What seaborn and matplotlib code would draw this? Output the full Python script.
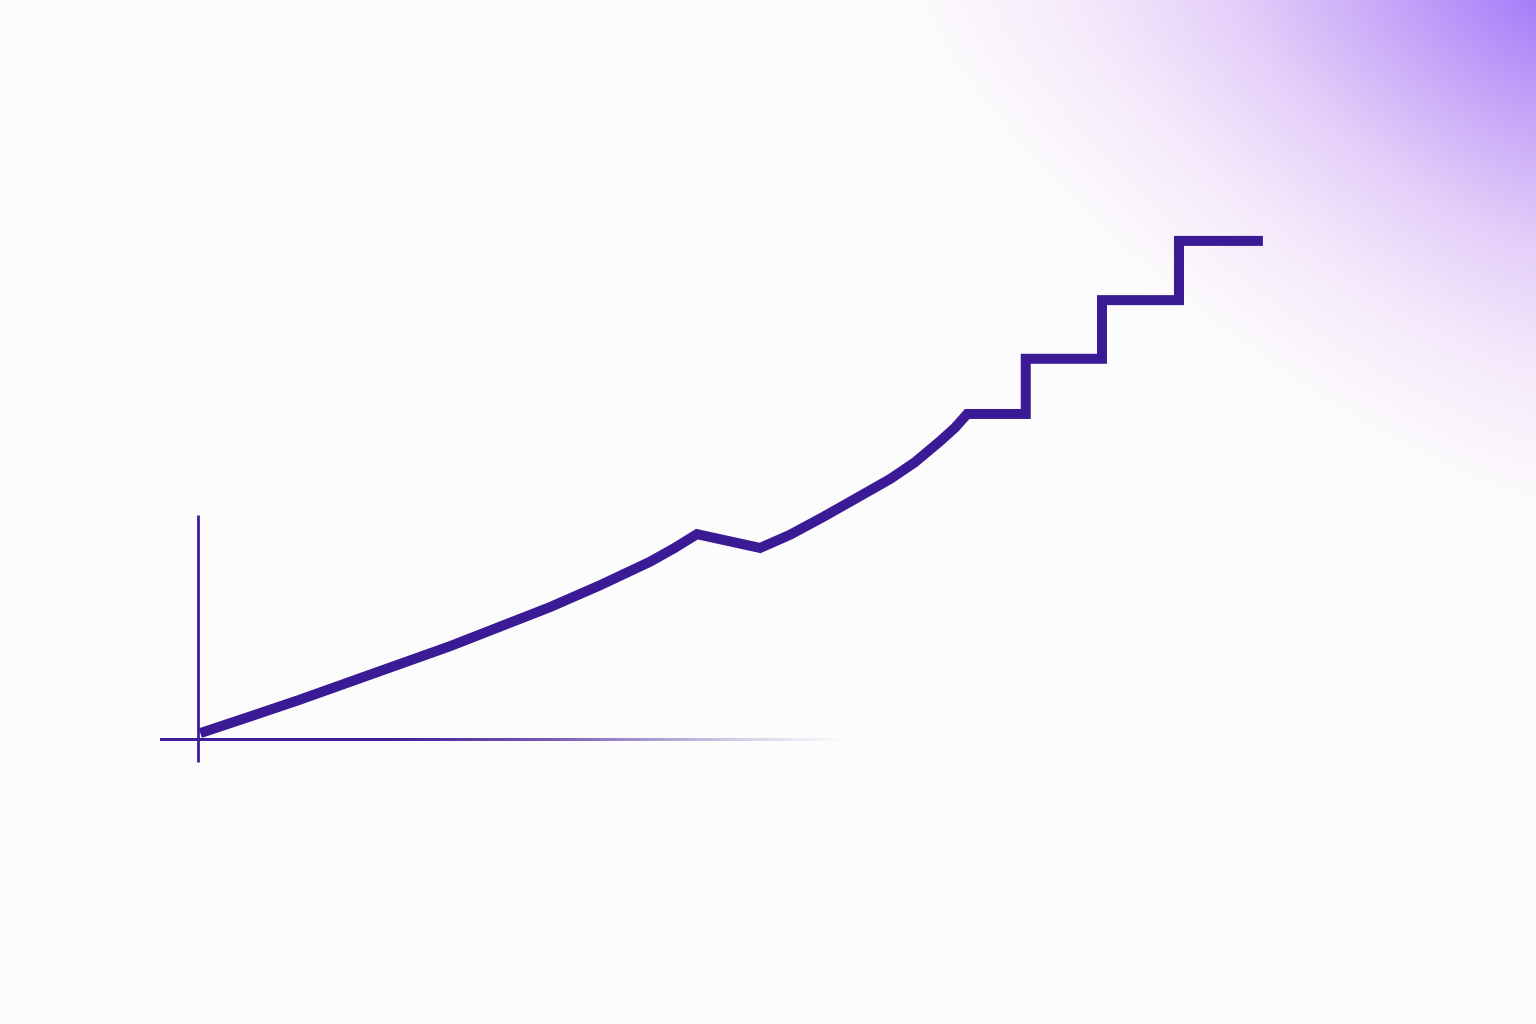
import numpy as np
import pandas as pd
import matplotlib
matplotlib.use("Agg")
import matplotlib.pyplot as plt
import seaborn as sns
from matplotlib.colors import LinearSegmentedColormap, to_rgba

# ---- data ----
x_vals = [0.03, 0.68, 1.32, 1.97, 2.62, 3.27, 3.92, 4.57, 5.22, 5.87, 6.19, 6.48,
          7.30, 7.69, 8.12, 8.53, 8.99, 9.31, 9.64, 9.83, 9.99,
          10.75, 10.75, 11.74, 11.74, 12.74, 12.74, 13.83]
y_vals = [0.12, 0.41, 0.70, 1.01, 1.32, 1.63, 1.97, 2.31, 2.69, 3.10, 3.34, 3.58,
          3.34, 3.57, 3.88, 4.19, 4.54, 4.83, 5.20, 5.43, 5.67,
          5.67, 6.63, 6.63, 7.65, 7.65, 8.68, 8.68]
y_axis_span = [-0.38, 3.91]
x_axis_span = [-0.49, 8.6]
x_axis_fade_start = 4.7

LINE_COLOR = "#3b1a96"
AXIS_COLOR = "#3f1d9a"
BG = "#fdfcfd"

sns.set_theme(style="white")
fig = plt.figure(figsize=(15.36, 10.24), dpi=100, facecolor=BG)

# background gradient (top-right glow)
bg_ax = fig.add_axes([0, 0, 1, 1])
bg_ax.set_axis_off()
H, W = 256, 384
yy, xx = np.mgrid[0:H, 0:W]
px = xx / (W - 1) * 1536
py = yy / (H - 1) * 1024
u = (1536 - px) / 640.0
v = py / 520.0
p = 1.3
s = (u ** p + v ** p) ** (1 / p)
t = np.clip(1 - s, 0, 1) ** 1.1
cmap = LinearSegmentedColormap.from_list(
    "glow", [BG, "#f5eafb", "#e4cff9", "#c7a7f8", "#a67ff9"])
bg_ax.imshow(t, cmap=cmap, vmin=0, vmax=1, extent=[0, 1, 0, 1],
             aspect="auto", interpolation="bicubic", origin="upper")
bg_ax.set_xlim(0, 1)
bg_ax.set_ylim(0, 1)

ax = fig.add_axes([0, 0, 1, 1])
ax.patch.set_alpha(0)
ax.set_axis_off()
XL = (-198 / 77, (1536 - 198) / 77)
YL = (-(1024 - 740) / 57.5, 740 / 57.5)
ax.set_xlim(*XL)
ax.set_ylim(*YL)

# y axis
ax.plot([0, 0], y_axis_span, color=AXIS_COLOR, lw=2.0, solid_capstyle="butt")

# x axis with fading tail (drawn as a thin gradient strip)
N = 400
xs = np.linspace(x_axis_span[0], x_axis_span[1], N)
base = np.array(to_rgba(AXIS_COLOR))
alpha = np.where(
    xs <= x_axis_fade_start,
    1.0 - 0.3 * np.clip((xs - 2.5) / (x_axis_fade_start - 2.5), 0, 1),
    0.7 * np.clip(1 - (xs - x_axis_fade_start) / (x_axis_span[1] - x_axis_fade_start), 0, 1) ** 1.3,
)
strip = np.tile(base, (1, N, 1))
strip[0, :, 3] = alpha
h = 1.5 / 57.5
ax.imshow(strip, extent=[x_axis_span[0], x_axis_span[1], -h, h],
          aspect="auto", interpolation="bilinear", zorder=2)

# main line
df = pd.DataFrame({"x": x_vals, "y": y_vals})
sns.lineplot(data=df, x="x", y="y", sort=False, estimator=None, ax=ax,
             color=LINE_COLOR, linewidth=7.2, zorder=3,
             solid_joinstyle="miter", solid_capstyle="butt")
ax.set_xlim(*XL)
ax.set_ylim(*YL)
ax.set_axis_off()

fig.savefig("out.png", dpi=100, facecolor=BG)
